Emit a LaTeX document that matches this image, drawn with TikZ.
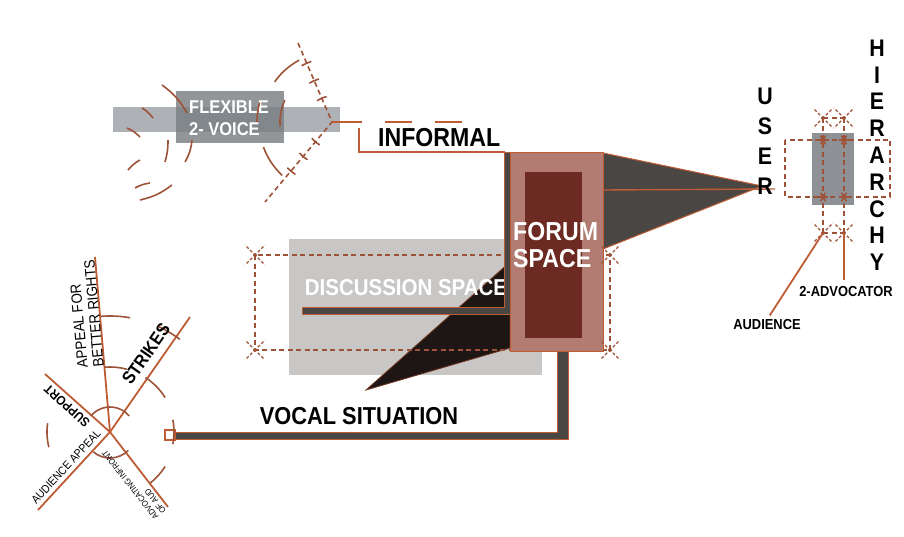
\documentclass[tikz,border=0pt]{standalone}
\usepackage{fontspec}
\setmainfont{Liberation Sans}[FakeStretch=0.89]
\usetikzlibrary{calc}

\definecolor{rust}{RGB}{190,92,52}
\definecolor{rustdash}{RGB}{158,82,55}
\definecolor{darkgrey}{RGB}{74,70,68}
\definecolor{forumfill}{RGB}{178,124,114}
\definecolor{forumcore}{RGB}{108,42,34}
\definecolor{discgrey}{RGB}{200,199,198}
\definecolor{flexbar}{RGB}{160,165,170}
\definecolor{flexbox}{RGB}{120,124,128}
\definecolor{usergrey}{RGB}{142,146,150}
\definecolor{wedge}{RGB}{30,22,20}

\newcommand\crossmark[1]{%
  \foreach \a in {45,135,225,315}
    \draw[rustdash,line width=1.3pt,dash pattern=on 3pt off 2pt] (#1) ++(\a:4) -- ++(\a:10);
  \fill[rustdash] (#1) circle (2);}
\newcommand\starmark[1]{%
  \foreach \a in {0,60,120}
    \draw[rustdash,line width=1.6pt] (#1) ++(\a:5) -- ++(\a:-10);}

\begin{document}
\begin{tikzpicture}[x=1pt,y=-1pt,
  rustline/.style={draw=rust,line width=1.8pt},
  dashline/.style={draw=rustdash,line width=1.6pt,dash pattern=on 5pt off 3.5pt},
  waveline/.style={draw=rustdash,line width=1.6pt},
  darkbar/.style={fill=darkgrey,draw=rust,line width=1pt},
  whitelabel/.style={text=white,font=\bfseries\fontsize{26}{27}\selectfont,inner sep=0pt,align=left},
  blacklabel/.style={font=\bfseries\fontsize{26}{27}\selectfont,inner sep=0pt},
  letter/.style={font=\bfseries\fontsize{24}{24}\selectfont,inner sep=0pt},
  smalllabel/.style={font=\bfseries\fontsize{14.5}{15}\selectfont,inner sep=0pt},
  fanlabel/.style={font=\fontsize{14}{15}\selectfont,inner sep=0pt,align=left}]
\useasboundingbox (0,0) rectangle (904,537);

% flexible voice
\fill[flexbar,opacity=.85] (113,107) rectangle (340,132);
\fill[flexbox,opacity=.8] (176,91) rectangle (284,143);
\node[whitelabel,font=\bfseries\fontsize{18.5}{22}\selectfont,anchor=west] (flex) at (189,118) {FLEXIBLE\\2- VOICE};

\coordinate (V) at (332,122);
\draw[dashline] (298,43) -- (V) -- (265,202);
\foreach \r [evaluate=\r as \h using 300/\r] in {26,45,64} {
  \draw[waveline] (V) ++({-113.6+\h}:\r) arc[start angle={-113.6+\h},end angle={-113.6-\h},radius=\r];
  \draw[waveline] (V) ++({-230.4+\h}:\r) arc[start angle={-230.4+\h},end angle={-230.4-\h},radius=\r];
}
\draw[waveline] (V) ++(-118:70) arc[start angle=-118,end angle=-145,radius=70];
\draw[waveline] (V) ++(-155:52) arc[start angle=-155,end angle=-185,radius=52];
\draw[waveline] (V) ++(-165:75) arc[start angle=-165,end angle=-180,radius=75];
\draw[waveline] (V) ++(-200:73) arc[start angle=-200,end angle=-227,radius=73];
\draw[waveline] (162,85) to[bend left=12] (187,113);
\draw[waveline] (142,108) to[bend left=10] (153,118);
\draw[waveline] (127,128) to[bend left=10] (140,137);
\draw[waveline] (168,140) to[bend left=8] (165,162);
\draw[waveline] (192,140) to[bend left=12] (185,162);
\draw[waveline] (128,170) to[bend left=10] (140,160);
\draw[waveline] (135,188) to[bend left=10] (150,183);
\draw[waveline] (140,200) to[bend right=12] (172,185);

% informal
\draw[rustline] (V) -- (362,122);
\draw[rustline,dash pattern=on 27pt off 23pt] (385,122) -- (465,122);
\draw[rustline] (359,128) -- (359,152) -- (505,152);
\node[blacklabel,anchor=base west] (informal) at (378,147) {INFORMAL};

% discussion space
\fill[discgrey] (289,239) rectangle (542,375);
\filldraw[fill=wedge,draw=rust!60!black,line width=.8pt] (366,390) -- (510,262) -- (510,348) -- cycle;
\node[whitelabel,font=\bfseries\fontsize{23}{24}\selectfont] (disc) at (406,288) {DISCUSSION SPACE};
\draw[dashline] (255,255) rectangle (610,350);
\filldraw[darkbar] (302,307) -- (504,307) -- (504,153) -- (510,153) -- (510,314) -- (302,314) -- cycle;

% forum space
\filldraw[darkbar] (603,153) -- (762,186) -- (603,249) -- cycle;
\draw[rustline,line width=1.4pt] (603,190) -- (775,189);
\filldraw[fill=forumfill,draw=rust,line width=1pt] (510,153) rectangle (603,351);
\fill[forumcore] (525,172) rectangle (582,338);
\node[whitelabel,anchor=west] (forum) at (513,245) {FORUM\\SPACE};
\crossmark{255,255} \crossmark{255,350} \crossmark{610,255} \crossmark{610,350}

% vocal situation
\filldraw[darkbar] (175,432) -- (557,432) -- (557,351) -- (568,351) -- (568,439) -- (175,439) -- cycle;
\draw[rust,line width=1.2pt,fill=white] (165,430) rectangle (175,440);
\node[blacklabel,font=\bfseries\fontsize{24.5}{25}\selectfont] (vocal) at (359,416) {VOCAL SITUATION};

% appeals
\coordinate (O) at (110,432);
\foreach \p in {(95,257),(190,317),(45,374),(38,510),(168,507)}
  \draw[rustline] (O) -- \p;
\draw[waveline] (O) ++(-40:25) arc[start angle=-40,end angle=-140,radius=25];
\draw[waveline] (O) ++(-230:26) arc[start angle=-230,end angle=-315,radius=26];
\draw[waveline] (O) ++(11:64) arc[start angle=11,end angle=-11,radius=64];
\draw[waveline] (O) ++(32:65) arc[start angle=32,end angle=52,radius=65];
\draw[waveline] (O) ++(-32:65) arc[start angle=-32,end angle=-57,radius=65];
\draw[waveline] (O) ++(-75:65) arc[start angle=-75,end angle=-95,radius=65];
\draw[waveline] (O) ++(-172:63) arc[start angle=-172,end angle=-194,radius=63];
\draw[waveline] (O) ++(-80:116) arc[start angle=-80,end angle=-95,radius=116];
\draw[waveline] (O) ++(-53:116) arc[start angle=-53,end angle=-65,radius=116];
\node[font=\bfseries\fontsize{18}{18}\selectfont,inner sep=0pt,rotate=55] (strikes) at (146,354) {STRIKES};
\node[fanlabel,font=\fontsize{15}{16}\selectfont,rotate=95] (appeal) at (86,314) {APPEAL FOR\\BETTER RIGHTS};
\node[fanlabel,font=\bfseries\fontsize{13}{14}\selectfont,rotate=138] (support) at (67,406) {SUPPORT};
\node[fanlabel,font=\fontsize{11.5}{12}\selectfont,rotate=47] (audapp) at (66,467) {AUDIENCE APPEAL};
\node[fanlabel,font=\fontsize{8.5}{9.5}\selectfont,rotate=128] (advoc) at (134,482) {ADVOCATING INFRONT\\OF AUD};

% user hierarchy
\fill[usergrey] (812,133) rectangle (854,205);
\draw[dashline] (785,140) rectangle (890,197);
\coordinate (tl) at (823,118); \coordinate (tr) at (844,118);
\coordinate (bl) at (823,233); \coordinate (br) at (844,233);
\draw[dashline] (tl) -- (bl) (tr) -- (br) (tl) -- (tr) (bl) -- (br);
\starmark{823,140} \starmark{844,140} \starmark{823,197} \starmark{844,197}
\crossmark{tl} \crossmark{tr} \crossmark{bl} \crossmark{br}
\foreach \l [count=\i] in {U,S,E,R}
  \node[letter] (u\i) at (765,{96+30*(\i-1)}) {\l};
\foreach \l [count=\i] in {H,I,E,R,A,R,C,H,Y}
  \node[letter] (h\i) at (877,{48+26.8*(\i-1)}) {\l};
\node[smalllabel] (aud) at (767,325) {AUDIENCE};
\node[smalllabel] (adv) at (846,292) {2-ADVOCATOR};
\draw[rustline,shorten >=5pt] (bl) -- (aud.north);
\draw[rustline,shorten >=7pt] (br) -- (br |- adv.north);
\end{tikzpicture}
\end{document}
